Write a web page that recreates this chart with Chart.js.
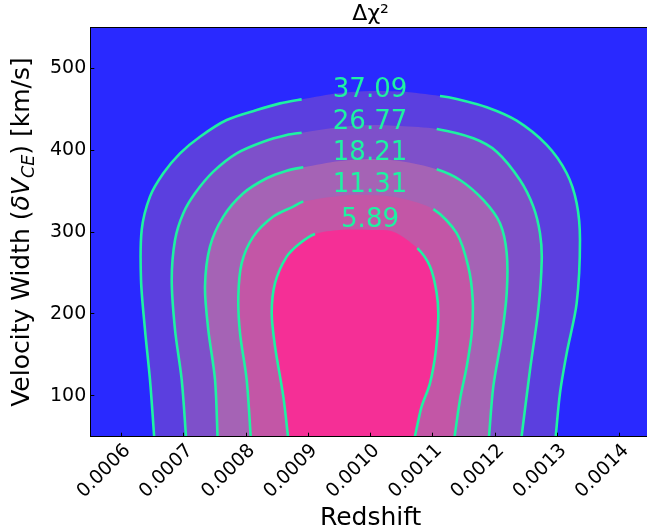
<!DOCTYPE html>
<html>
<head>
<meta charset="utf-8">
<script src="https://cdn.jsdelivr.net/npm/chart.js@4.4.1/dist/chart.umd.min.js"></script>
<style>
  html, body { margin: 0; padding: 0; overflow: hidden; background: #fff; width: 647px; height: 531px; }
  canvas { display: block; }
</style>
</head>
<body>
<canvas id="c" width="652" height="531" style="width:652px;height:531px"></canvas>
<script>
// ---- data ----
const levels = [5.89, 11.31, 18.21, 26.77, 37.09];

// contour 5.89
const c589x = [0.0008681, 0.0008598, 0.0008465, 0.0008412, 0.0008465, 0.0008652, 0.0008866, 0.0009107, 0.0009508, 0.0009990, 0.0010364, 0.0010749, 0.0010953, 0.0011060, 0.0011086, 0.0011049, 0.0010953, 0.0010819, 0.0010768, 0.0010696];
const c589y = [45, 99.2, 160.2, 201.0, 237.6, 270.0, 286.4, 297.7, 302.6, 302.6, 300.5, 280.3, 257.8, 225.4, 196.8, 156.2, 115.5, 87.0, 70.7, 45];
// contour 11.31
const c1131x = [0.0008079, 0.0008010, 0.0007903, 0.0007876, 0.0007930, 0.0008116, 0.0008437, 0.0008758, 0.0008919, 0.0009508, 0.0009990, 0.0010471, 0.0011006, 0.0011381, 0.0011567, 0.0011638, 0.0011622, 0.0011542, 0.0011434, 0.0011338];
const c1131y = [45, 119.6, 176.6, 221.2, 262.0, 294.4, 318.9, 331.1, 337.2, 344.1, 345.3, 341.7, 327.9, 298.6, 257.8, 217.2, 176.6, 135.8, 95.2, 45];
// contour 18.21
const c1821x = [0.0007545, 0.0007502, 0.0007394, 0.0007341, 0.0007421, 0.0007635, 0.0007956, 0.0008331, 0.0008652, 0.0008919, 0.0009508, 0.0009990, 0.0010471, 0.0011060, 0.0011434, 0.0011808, 0.0012076, 0.0012184, 0.0012184, 0.0012104, 0.0011969, 0.0011895];
const c1821y = [45, 119.6, 180.6, 233.4, 282.2, 318.9, 347.4, 365.7, 375.0, 379.1, 386.8, 389.3, 386.8, 376.7, 363.6, 339.2, 310.8, 274.2, 225.4, 172.4, 111.4, 45];
// contour 26.77
const c2677x = [0.0007041, 0.0006967, 0.0006860, 0.0006807, 0.0006860, 0.0006993, 0.0007181, 0.0007474, 0.0007850, 0.0008277, 0.0008652, 0.0008893, 0.0009508, 0.0009990, 0.0010471, 0.0011060, 0.0011648, 0.0012023, 0.0012397, 0.0012611, 0.0012718, 0.0012746, 0.0012691, 0.0012558, 0.0012414];
const c2677y = [45, 119.6, 180.6, 241.6, 290.4, 323.0, 347.4, 373.8, 396.2, 410.4, 418.6, 421.4, 428.3, 430.8, 429.5, 425.9, 414.5, 398.2, 363.6, 331.1, 298.6, 266.0, 205.0, 131.8, 45];
// contour 37.09
const c3709x = [0.0006530, 0.0006458, 0.0006378, 0.0006314, 0.0006325, 0.0006458, 0.0006672, 0.0006940, 0.0007261, 0.0007689, 0.0008171, 0.0008545, 0.0008893, 0.0009508, 0.0009990, 0.0010471, 0.0011113, 0.0011381, 0.0011863, 0.0012344, 0.0012826, 0.0013147, 0.0013307, 0.0013360, 0.0013307, 0.0013147, 0.0013039, 0.0012964];
const c3709y = [45, 119.6, 180.6, 241.6, 302.6, 343.3, 371.8, 396.2, 416.5, 436.9, 449.1, 457.2, 462.1, 469.8, 472.3, 471.6, 466.2, 462.5, 452.4, 436.0, 406.4, 371.8, 335.2, 290.4, 213.2, 152.1, 103.3, 45];

// where the inline labels break each contour line (redshift range)
const gapLo = [0.0009107, 0.0008919, 0.0008919, 0.0008893, 0.0008893];
const gapHi = [0.0010749, 0.0011006, 0.0011060, 0.0011060, 0.0011113];
// inline label anchors
const labelX = [0.000999, 0.000999, 0.000999, 0.000999, 0.000999];
const labelY = [314.8, 357.5, 396.6, 434.4, 473.5];

const xTickValues = [0.0006, 0.0007, 0.0008, 0.0009, 0.0010, 0.0011, 0.0012, 0.0013, 0.0014];
const yTickValues = [100, 200, 300, 400, 500];
const xMin = 0.00055, xMax = 0.00145, yMin = 50, yMax = 550;

const titleText = 'Δχ²';
const xTitleText = 'Redshift';

// ---- styles ----
const contourX = [c589x, c1131x, c1821x, c2677x, c3709x];
const contourY = [c589y, c1131y, c1821y, c2677y, c3709y];
const bandColors = ['#f52f96', '#c356a6', '#a563b5', '#7e50ca', '#5b3fdf'];
const outsideColor = '#2929ff';
const lineColor = '#1ef2a2';
const FONT = '"DejaVu Sans", sans-serif';

Chart.defaults.font.family = FONT;
Chart.defaults.color = '#000';

const pts = k => contourX[k].map((x, i) => ({ x: x, y: contourY[k][i] }));

const datasets = [];
// lines on top (order 0)
levels.forEach((lv, k) => {
  datasets.push({
    label: 'line ' + lv,
    data: pts(k),
    order: 0,
    fill: false,
    borderColor: lineColor,
    borderWidth: 2.6,
    pointRadius: 0,
    tension: 0.3,
    clip: 0,
    segment: {
      borderColor: c => {
        const xs = contourX[k];
        const a = xs[c.p0DataIndex], b = xs[c.p1DataIndex];
        const e = 1e-10;
        return (a >= gapLo[k] - e && a <= gapHi[k] + e && b >= gapLo[k] - e && b <= gapHi[k] + e) ? 'rgba(0,0,0,0)' : lineColor;
      }
    }
  });
});
// filled regions, outermost drawn first
levels.forEach((lv, k) => {
  datasets.push({
    label: 'fill ' + lv,
    data: pts(k),
    order: k + 1,
    fill: 'shape',
    backgroundColor: bandColors[k],
    borderColor: 'rgba(0,0,0,0)',
    borderWidth: 0,
    pointRadius: 0,
    tension: 0.3,
    clip: 0
  });
});

const bgPlugin = {
  id: 'bg',
  beforeDatasetsDraw(chart) {
    const { ctx, chartArea: a } = chart;
    ctx.save();
    ctx.fillStyle = outsideColor;
    ctx.fillRect(a.left, a.top, a.right - a.left, a.bottom - a.top);
    ctx.restore();
  }
};

const labelPlugin = {
  id: 'contourLabels',
  afterDatasetsDraw(chart) {
    const { ctx } = chart;
    const xs = chart.scales.x, ys = chart.scales.y;
    ctx.save();
    ctx.font = '26px ' + FONT;
    ctx.fillStyle = lineColor;
    ctx.textAlign = 'center';
    ctx.textBaseline = 'middle';
    levels.forEach((lv, i) => {
      ctx.fillText(lv.toFixed(2), xs.getPixelForValue(labelX[i]), ys.getPixelForValue(labelY[i]));
    });
    ctx.restore();
  }
};

const yTitlePlugin = {
  id: 'yTitle',
  afterDraw(chart) {
    const { ctx, chartArea: a } = chart;
    const parts = [
      { t: 'Velocity Width (', f: '25px ' + FONT, dy: 0 },
      { t: 'δV', f: 'italic 25px ' + FONT, dy: 0 },
      { t: 'CE', f: 'italic 17.5px ' + FONT, dy: 5 },
      { t: ') [km/s]', f: '25px ' + FONT, dy: 0 }
    ];
    ctx.save();
    let total = 0;
    parts.forEach(p => { ctx.font = p.f; p.w = ctx.measureText(p.t).width; total += p.w; });
    ctx.translate(29, (a.top + a.bottom) / 2);
    ctx.rotate(-Math.PI / 2);
    ctx.fillStyle = '#000';
    ctx.textAlign = 'left';
    ctx.textBaseline = 'alphabetic';
    let x = -total / 2;
    parts.forEach(p => { ctx.font = p.f; ctx.fillText(p.t, x, p.dy); x += p.w; });
    ctx.restore();
  }
};

new Chart(document.getElementById('c'), {
  type: 'line',
  data: { datasets },
  options: {
    responsive: false,
    animation: false,
    devicePixelRatio: 1,
    events: [],
    elements: { line: { capBezierPoints: false } },
    layout: { padding: { left: 0, right: 1, top: 0, bottom: 0 } },
    plugins: {
      legend: { display: false },
      tooltip: { enabled: false },
      title: {
        display: true,
        text: titleText,
        fullSize: false,
        color: '#000',
        font: { size: 22, weight: 'normal', lineHeight: 1.2 },
        padding: { top: 1, bottom: 0 }
      }
    },
    scales: {
      x: {
        type: 'linear',
        position: 'bottom',
        min: xMin, max: xMax,
        afterBuildTicks: s => { s.ticks = xTickValues.map(v => ({ value: v })); },
        afterFit: s => { s.height = 94.3; },
        ticks: {
          autoSkip: false,
          minRotation: 45, maxRotation: 45,
          padding: 7,
          labelOffset: 6,
          font: { size: 19 },
          color: '#000',
          callback: v => v.toFixed(4)
        },
        grid: { display: true, drawOnChartArea: false, drawTicks: true, tickLength: -4, tickColor: '#000', tickWidth: 1, z: 1 },
        border: { display: true, color: '#000', width: 1, z: 1 },
        title: { display: true, text: xTitleText, color: '#000', font: { size: 25, lineHeight: 1 }, padding: { top: 0, bottom: 0 } }
      },
      x2: {
        type: 'linear',
        position: 'top',
        min: xMin, max: xMax,
        afterFit: s => { s.height = 0; },
        ticks: { display: false },
        grid: { display: false },
        border: { display: true, color: '#000', width: 1, z: 1 }
      },
      y: {
        type: 'linear',
        position: 'left',
        min: yMin, max: yMax,
        afterBuildTicks: s => { s.ticks = yTickValues.map(v => ({ value: v })); },
        afterFit: s => { s.width = 90.3; },
        ticks: { padding: 8, font: { size: 19 }, color: '#000' },
        grid: { display: true, drawOnChartArea: false, drawTicks: true, tickLength: -4, tickColor: '#000', tickWidth: 1, z: 1 },
        border: { display: true, color: '#000', width: 1, z: 1 }
      }
    }
  },
  plugins: [bgPlugin, labelPlugin, yTitlePlugin]
});
</script>
</body>
</html>
